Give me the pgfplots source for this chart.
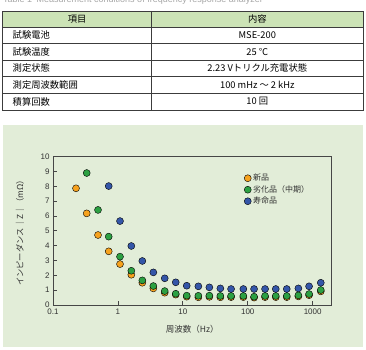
\documentclass[border=0pt]{standalone}
\usepackage{pgfplots}
\pgfplotsset{compat=1.18}
\usepackage{pgfplotstable}
\usepackage{fontspec}
\setmainfont{Liberation Sans}
\newfontfamily\jp{Noto Sans CJK JP}
\definecolor{panel}{RGB}{226,237,216}
\definecolor{hdr}{RGB}{204,227,182}
\definecolor{tbl}{RGB}{60,60,60}
\definecolor{txt}{RGB}{50,50,50}
\definecolor{axc}{RGB}{70,70,70}
\definecolor{cOrange}{RGB}{246,162,30}
\definecolor{cGreen}{RGB}{44,160,66}
\definecolor{cBlue}{RGB}{52,86,168}

\pgfplotstableread{
f z
0.2261 7.87
0.3307 6.18
0.4935 4.72
0.7216 3.62
1.077 2.76
1.609 2.04
2.377 1.50
3.513 1.12
5.262 0.83
7.776 0.70
11.48 0.56
17.34 0.52
25.61 0.55
37.83 0.52
55.29 0.53
85.55 0.53
125.1 0.50
184.7 0.53
270.1 0.53
399.0 0.53
602.1 0.58
880.0 0.66
1333 0.92
}\tnew

\pgfplotstableread{
f z
0.3307 8.90
0.4935 6.41
0.7216 4.61
1.077 3.26
1.609 2.31
2.377 1.66
3.513 1.28
5.262 0.94
7.776 0.76
11.48 0.63
17.34 0.62
25.61 0.63
37.83 0.61
55.29 0.61
85.55 0.61
125.1 0.56
184.7 0.61
270.1 0.61
399.0 0.61
602.1 0.65
880.0 0.74
1333 1.01
}\tmid

\pgfplotstableread{
f z
0.7216 8.02
1.077 5.66
1.609 3.98
2.377 2.97
3.513 2.20
5.262 1.80
7.776 1.53
11.48 1.30
17.34 1.26
25.61 1.19
37.83 1.12
55.29 1.08
85.55 1.08
125.1 1.08
184.7 1.08
270.1 1.08
399.0 1.08
602.1 1.12
880.0 1.26
1333 1.50
}\tend

\begin{document}
\begin{tikzpicture}
\useasboundingbox (0pt,0pt) rectangle (366pt,349pt);
% caption (cut at the top of the reference)
\node[anchor=base west, inner sep=0pt, text=gray!70, font=\fontsize{9}{10}\selectfont] at (3pt,346.8pt) {Table 1\enspace Measurement conditions of frequency response analyzer};
% table
\fill[hdr] (2.7pt,338pt) rectangle (363pt,322pt);
\draw[tbl, line width=0.7pt] (2.7pt,338pt) rectangle (363pt,239pt);
\foreach \yy in {322,305.5,289,272.5,256} {\draw[tbl, line width=0.7pt] (2.7pt,\yy pt) -- (363pt,\yy pt);}
\draw[tbl, line width=0.7pt] (151.7pt,338pt) -- (151.7pt,239pt);
\begin{scope}[every node/.style={inner sep=0pt, text=black, font=\jp\fontsize{9.3}{11}\selectfont}]
\node at (77.2pt,330pt) {項目};
\node at (257.3pt,330pt) {内容};
\node[anchor=west] at (12.5pt,313.75pt) {試験電池};
\node[anchor=west] at (12.5pt,297.25pt) {試験温度};
\node[anchor=west] at (12.5pt,280.75pt) {測定状態};
\node[anchor=west] at (12.5pt,264.25pt) {測定周波数範囲};
\node[anchor=west] at (12.5pt,247.5pt) {積算回数};
\node at (257.3pt,313.75pt) {MSE-200};
\node at (257.3pt,297.25pt) {25 ℃};
\node at (257.3pt,280.75pt) {2.23 Vトリクル充電状態};
\node at (257.3pt,264.25pt) {100 mHz 〜 2 kHz};
\node at (257.3pt,247.5pt) {10 回};
\end{scope}
% chart panel
\fill[panel] (2.5pt,2pt) rectangle (362.5pt,224pt);
\begin{axis}[
  at={(53pt,44pt)}, anchor=south west,
  scale only axis, width=278.5pt, height=148.3pt,
  xmode=log, xmin=0.1, xmax=1950,
  ymin=0, ymax=10,
  xtick={0.1,1,10,100,1000},
  xticklabels={0.1,1,10,100,1000},
  xminorticks=false,
  ytick={0,1,...,10},
  tick pos=left,
  tick align=inside,
  major tick length=4pt,
  axis line style={axc, line width=0.8pt},
  every tick/.style={axc, line width=0.8pt},
  /pgf/number format/assume math mode=true,
  tick label style={font=\fontsize{8}{9}\selectfont, text=txt},
  xlabel={\jp 周波数（Hz）},
  ylabel={\jp インピーダンス｜Z｜（mΩ）},
  xlabel style={at={(axis description cs:0.5,-0.162)}, anchor=center, font=\fontsize{8.5}{10}\selectfont, text=txt},
  ylabel style={at={(axis description cs:-0.1185,0.5)}, anchor=center, font=\fontsize{8.3}{10}\selectfont, text=txt},
  legend style={draw=none, fill=none, at={(axis description cs:0.686,0.895)}, anchor=north west,
     inner sep=0pt, font=\jp\fontsize{8}{9}\selectfont, text=txt,
     nodes={inner sep=1.75pt, text height=6.5pt, text depth=1.5pt}},
  legend cell align=left,
  legend image code/.code={\draw[mark repeat=2,mark phase=2,#1] plot coordinates {(0pt,0pt) (4pt,0pt) (8pt,0pt)};},
]
\addplot[only marks, mark=*, mark size=3.5pt, mark options={fill=cOrange, draw=none}] table[x=f,y=z] {\tnew};
\addlegendentry{新品}
\addplot[only marks, mark=*, mark size=3.5pt, mark options={fill=cGreen, draw=none}] table[x=f,y=z] {\tmid};
\addlegendentry{劣化品（中期）}
\addplot[only marks, mark=*, mark size=3.5pt, mark options={fill=cBlue, draw=none}] table[x=f,y=z] {\tend};
\addlegendentry{寿命品}
\end{axis}
\end{tikzpicture}
\end{document}
